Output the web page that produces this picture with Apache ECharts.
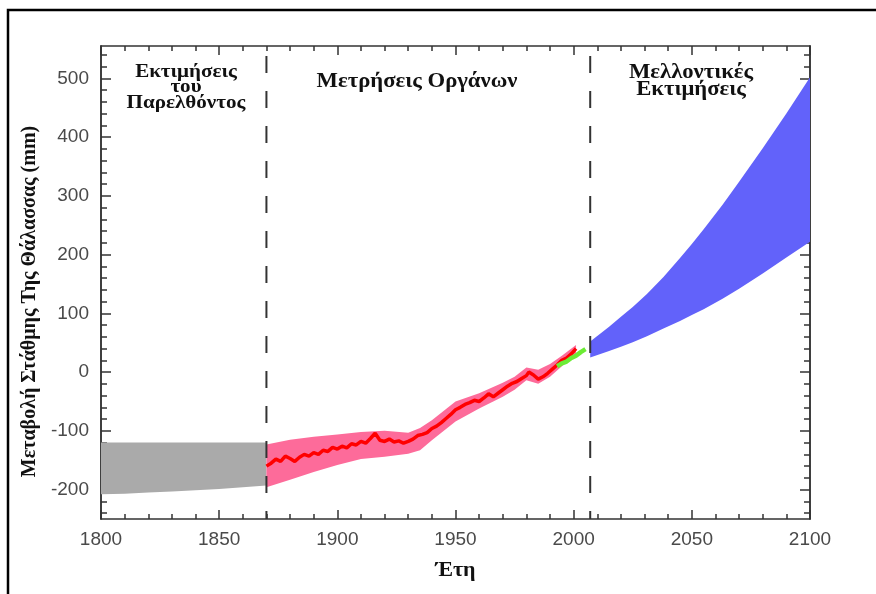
<!DOCTYPE html>
<html>
<head>
<meta charset="utf-8">
<script src="https://cdn.jsdelivr.net/npm/echarts@6/dist/echarts.min.js"></script>
<style>
  html, body { margin: 0; padding: 0; background: #fff; }
  #chart { width: 876px; height: 594px; }
</style>
</head>
<body>
<div id="chart"></div>
<script>
// Past estimates band (grey), mm
const pastYears = [1800, 1810, 1820, 1830, 1840, 1850, 1860, 1870];
const pastUpper = [-120, -120, -120, -120, -120, -120, -120, -120];
const pastLower = [-208, -207, -205, -203, -201, -199, -196, -193];

// Tide-gauge uncertainty band (pink), mm
const gaugeBandYears = [1870, 1880, 1890, 1900, 1910, 1920, 1930, 1935, 1940, 1950, 1960, 1970, 1975, 1980, 1985, 1990, 1995, 2001];
const gaugeUpper = [-123, -115, -110, -106, -102, -100, -103, -95, -82, -50, -36, -18, -8, 8, 4, 14, 28, 46];
const gaugeLower = [-196, -183, -170, -158, -148, -144, -139, -133, -116, -84, -62, -42, -30, -14, -20, -8, 10, 32];

// Tide-gauge record (red), mm
const gaugeYears = [1870, 1872, 1874, 1876, 1878, 1880, 1882, 1884, 1886, 1888,
                    1890, 1892, 1894, 1896, 1898, 1900, 1902, 1904, 1906, 1908,
                    1910, 1912, 1914, 1916, 1918, 1920, 1922, 1924, 1926, 1928,
                    1930, 1932, 1934, 1936, 1938, 1940, 1942, 1944, 1946, 1948,
                    1950, 1952, 1954, 1956, 1958, 1960, 1962, 1964, 1966, 1968,
                    1970, 1972, 1974, 1976, 1978, 1980, 1981, 1983, 1985, 1987,
                    1989, 1991, 1993, 1995, 1997, 1999, 2001];
const gaugeValues = [-160, -155, -148, -152, -143, -147, -152, -145, -140, -143,
                     -137, -140, -133, -135, -128, -131, -126, -129, -122, -124,
                     -118, -121, -113, -104, -116, -118, -114, -119, -117, -121,
                     -118, -114, -108, -106, -103, -96, -92, -86, -79, -72,
                     -64, -60, -55, -52, -48, -50, -44, -37, -42, -36,
                     -30, -24, -19, -16, -11, -6, 0, -5, -12, -8,
                     -2, 5, 12, 20, 24, 31, 40];

// Satellite altimetry (green), mm
const satYears = [1993, 1995, 1997, 1999, 2001, 2003, 2005];
const satValues = [10, 15, 18, 24, 28, 34, 39];

// Projection band (blue), mm
const projYears = [2007, 2015, 2020, 2025, 2031, 2038, 2045, 2050, 2055, 2063, 2070, 2080, 2090, 2100];
const projUpper = [52, 77, 94, 111, 133, 162, 194, 218, 243, 285, 324, 381, 440, 502];
const projLower = [25, 36, 43, 51, 61, 74, 87, 97, 107, 125, 142, 168, 195, 222];

// Period boundaries (dashed verticals)
const boundaryYears = [1870, 2007];

// Axis ticks
const yTickLabels = [-200, -100, 0, 100, 200, 300, 400, 500];
const yMinorTicks = [];
for (let v = -240; v <= 540; v += 20) if (v % 100 !== 0) yMinorTicks.push(v);

const Y_MIN = -250, Y_MAX = 555;
const AXIS_COLOR = '#333';

// A filled band between a lower and an upper curve, drawn as one polygon
function band(name, years, lower, upper, color) {
  const data = years.map((y, i) => [y, lower[i], upper[i]]);
  return {
    name: name, type: 'custom', data: data, encode: { x: 0, y: [1, 2] },
    silent: true, z: 1,
    renderItem: function (params, api) {
      if (params.dataIndex !== 0) return null;
      const pts = [];
      for (let i = 0; i < data.length; i++) pts.push(api.coord([data[i][0], data[i][2]]));
      for (let i = data.length - 1; i >= 0; i--) pts.push(api.coord([data[i][0], data[i][1]]));
      return { type: 'polygon', shape: { points: pts }, style: { fill: color, stroke: null } };
    }
  };
}

function yAxisDef(position, ticks, len, showLabels, extra) {
  return Object.assign({
    type: 'value', min: Y_MIN, max: Y_MAX, position: position,
    axisLine: { show: true, onZero: false, lineStyle: { color: AXIS_COLOR, width: 1.5 } },
    axisTick: { show: true, inside: true, length: len, customValues: ticks,
                lineStyle: { color: AXIS_COLOR, width: 1.5 } },
    axisLabel: showLabels ? {
      customValues: ticks, margin: 12, fontFamily: 'Liberation Sans',
      fontSize: 19, color: '#4a4a4a', formatter: v => String(v)
    } : { show: false },
    splitLine: { show: false }
  }, extra || {});
}

function xAxisDef(position, showLabels, extra) {
  return Object.assign({
    type: 'value', min: 1800, max: 2100, interval: 50, position: position,
    axisLine: { show: true, onZero: false, lineStyle: { color: AXIS_COLOR, width: 1.5 } },
    axisTick: { show: true, inside: true, length: 9, lineStyle: { color: AXIS_COLOR, width: 1.5 } },
    minorTick: { show: true, splitNumber: 5, length: 5, lineStyle: { color: AXIS_COLOR, width: 1.5 } },
    axisLabel: showLabels ? {
      margin: 11, fontFamily: 'Liberation Sans', fontSize: 19, color: '#4a4a4a',
      formatter: v => String(v)
    } : { show: false },
    splitLine: { show: false }, minorSplitLine: { show: false }
  }, extra || {});
}

const chart = echarts.init(document.getElementById('chart'), null, { renderer: 'canvas' });

const series = [
  band('past', pastYears, pastLower, pastUpper, '#aaaaaa'),
  band('gauge-band', gaugeBandYears, gaugeLower, gaugeUpper, '#fd6b9a'),
  band('projection', projYears, projLower, projUpper, '#6262fa'),
  {
    name: 'tide-gauge', type: 'line', data: gaugeYears.map((y, i) => [y, gaugeValues[i]]),
    symbol: 'none', lineStyle: { color: '#ff0000', width: 3.5 }, z: 3, silent: true
  },
  {
    name: 'satellite', type: 'line', data: satYears.map((y, i) => [y, satValues[i]]),
    symbol: 'none', lineStyle: { color: '#6cec35', width: 4.5 }, z: 4, silent: true
  }
].concat(boundaryYears.map((yr, k) => ({
  name: 'boundary-' + k, type: 'line', data: [[yr, Y_MAX], [yr, Y_MIN]],
  symbol: 'none', z: 5, silent: true,
  lineStyle: { color: '#333', width: 2, type: [17, 18], dashOffset: 25 }
})));

const labelFont = size => 'bold ' + size + 'px "Liberation Serif"';

chart.setOption({
  animation: false,
  backgroundColor: '#ffffff',
  grid: { left: 101, right: 66, top: 46, bottom: 75 },
  xAxis: [
    xAxisDef('bottom', true, {
      name: 'Έτη', nameLocation: 'middle', nameGap: 40,
      nameTextStyle: { fontFamily: 'Liberation Serif', fontWeight: 'bold', fontSize: 22, color: '#111' }
    }),
    xAxisDef('top', false)
  ],
  yAxis: [
    yAxisDef('left', yTickLabels, 10, true, {
      name: 'Μεταβολή Στάθμης Της Θάλασσας (mm)', nameLocation: 'middle', nameGap: 50,
      nameTextStyle: { fontFamily: 'Liberation Serif', fontWeight: 'bold', fontSize: 20, color: '#111',
                       padding: [0, 38, 0, 0] }
    }),
    yAxisDef('left', yMinorTicks, 6, false),
    yAxisDef('right', yTickLabels, 10, false),
    yAxisDef('right', yMinorTicks, 6, false)
  ],
  series: series,
  graphic: [
    {
      type: 'polyline', silent: true,
      shape: { points: [[8, 594], [8, 10], [876, 10]] },
      style: { stroke: '#000', lineWidth: 2.5, fill: null }
    },
    {
      type: 'text', x: 186, y: 64, scaleX: 1.08, silent: true,
      style: { text: 'Εκτιμήσεις\nτου\nΠαρελθόντος', fill: '#111', align: 'center', verticalAlign: 'top',
               font: labelFont(19.5), lineHeight: 15.5 }
    },
    {
      type: 'text', x: 417, y: 82, scaleX: 1.08, silent: true,
      style: { text: 'Μετρήσεις Οργάνων', fill: '#111', align: 'center', verticalAlign: 'middle',
               font: labelFont(21) }
    },
    {
      type: 'text', x: 691, y: 64, scaleX: 1.08, silent: true,
      style: { text: 'Μελλοντικές\nΕκτιμήσεις', fill: '#111', align: 'center', verticalAlign: 'top',
               font: labelFont(21), lineHeight: 17 }
    }
  ]
});
</script>
</body>
</html>
